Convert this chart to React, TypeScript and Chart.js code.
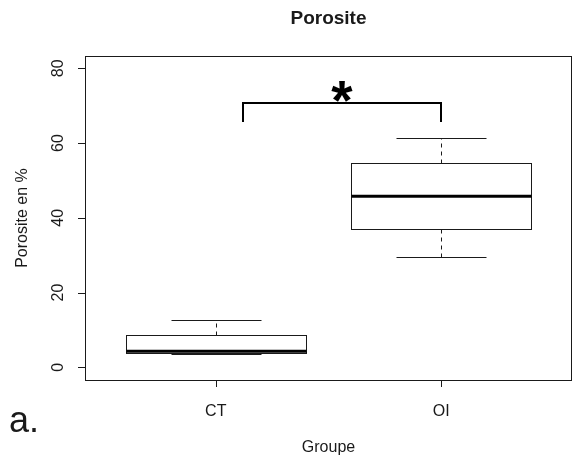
import React, { useEffect, useRef } from 'react';
import { Chart, registerables } from 'chart.js';

Chart.register(...registerables);

const categories = ['CT', 'OI'];
const positions = [1, 2];
const lowerWhisker = [3.5, 29.5];
const q1 = [3.9, 37.0];
const median = [4.3, 45.8];
const q3 = [8.6, 54.7];
const upperWhisker = [12.7, 61.3];
const yTicks = [0, 20, 40, 60, 80];
const bracketX = [1.12, 2.0];
const bracketY = [65.7, 70.6];
const sigLabel = '*';
const titleText = 'Porosite';
const yTitle = 'Porosite en %';
const xTitle = 'Groupe';
const panelLabel = 'a.';

const FONT = '"Liberation Sans", Arial, sans-serif';
const INK = '#1a1a1a';

const boxplotPlugin = {
  id: 'rBoxplot',
  beforeDraw(chart: any) {
    const ctx = chart.ctx;
    ctx.save();
    ctx.fillStyle = '#ffffff';
    ctx.fillRect(0, 0, chart.width, chart.height);
    ctx.restore();
  },
  afterDraw(chart: any) {
    const ctx = chart.ctx as CanvasRenderingContext2D;
    const xs = chart.scales.x;
    const ys = chart.scales.y;
    const a = chart.chartArea;
    ctx.save();

    // frame
    ctx.strokeStyle = INK;
    ctx.lineWidth = 1;
    ctx.strokeRect(Math.round(a.left) + 0.5, Math.round(a.top) + 0.5, Math.round(a.right - a.left) - 1, Math.round(a.bottom - a.top));

    // y ticks and labels
    ctx.fillStyle = INK;
    ctx.font = `16px ${FONT}`;
    yTicks.forEach((v) => {
      const py = Math.round(ys.getPixelForValue(v)) + 0.5;
      ctx.beginPath();
      ctx.moveTo(a.left - 7, py);
      ctx.lineTo(a.left, py);
      ctx.stroke();
      ctx.save();
      ctx.translate(63, ys.getPixelForValue(v));
      ctx.rotate(-Math.PI / 2);
      ctx.textAlign = 'center';
      ctx.textBaseline = 'alphabetic';
      ctx.fillText(String(v), 0, 0);
      ctx.restore();
    });

    // x ticks and labels
    positions.forEach((p, i) => {
      const px = Math.round(xs.getPixelForValue(p)) + 0.5;
      ctx.beginPath();
      ctx.moveTo(px, a.bottom);
      ctx.lineTo(px, a.bottom + 7);
      ctx.stroke();
      ctx.textAlign = 'center';
      ctx.textBaseline = 'alphabetic';
      ctx.fillText(categories[i], xs.getPixelForValue(p), 416);
    });

    // boxes
    positions.forEach((p, i) => {
      const xl = Math.round(xs.getPixelForValue(p - 0.4)) + 0.5;
      const xr = Math.round(xs.getPixelForValue(p + 0.4)) + 0.5;
      const cl = Math.round(xs.getPixelForValue(p - 0.2)) + 0.5;
      const cr = Math.round(xs.getPixelForValue(p + 0.2)) + 0.5;
      const xc = Math.round(xs.getPixelForValue(p)) + 0.5;
      const yLo = Math.round(ys.getPixelForValue(lowerWhisker[i])) + 0.5;
      const yQ1 = Math.round(ys.getPixelForValue(q1[i])) + 0.5;
      const yMed = ys.getPixelForValue(median[i]);
      const yQ3 = Math.round(ys.getPixelForValue(q3[i])) + 0.5;
      const yHi = Math.round(ys.getPixelForValue(upperWhisker[i])) + 0.5;

      ctx.strokeStyle = INK;
      ctx.lineWidth = 1;
      // whiskers dashed
      ctx.setLineDash([4, 4]);
      ctx.beginPath();
      ctx.moveTo(xc, yQ3);
      ctx.lineTo(xc, yHi);
      ctx.moveTo(xc, yQ1);
      ctx.lineTo(xc, yLo);
      ctx.stroke();
      ctx.setLineDash([]);
      // caps
      ctx.beginPath();
      ctx.moveTo(cl, yHi);
      ctx.lineTo(cr, yHi);
      ctx.moveTo(cl, yLo);
      ctx.lineTo(cr, yLo);
      ctx.stroke();
      // box
      ctx.strokeRect(xl, yQ3, xr - xl, yQ1 - yQ3);
      // median
      ctx.lineWidth = 3;
      ctx.strokeStyle = '#000';
      ctx.beginPath();
      ctx.moveTo(xl, yMed);
      ctx.lineTo(xr, yMed);
      ctx.stroke();
    });

    // significance bracket
    const bx0 = Math.round(xs.getPixelForValue(bracketX[0]));
    const bx1 = Math.round(xs.getPixelForValue(bracketX[1]));
    const byTop = Math.round(ys.getPixelForValue(bracketY[1]));
    const byBot = Math.round(ys.getPixelForValue(bracketY[0]));
    ctx.strokeStyle = '#000';
    ctx.lineWidth = 2;
    ctx.beginPath();
    ctx.moveTo(bx0, byBot);
    ctx.lineTo(bx0, byTop);
    ctx.lineTo(bx1, byTop);
    ctx.lineTo(bx1, byBot);
    ctx.stroke();

    // asterisk
    ctx.fillStyle = '#000';
    ctx.font = `bold 60px ${FONT}`;
    const m = ctx.measureText(sigLabel);
    const glyphH = m.actualBoundingBoxAscent + m.actualBoundingBoxDescent;
    const size = 60 * (21 / glyphH);
    ctx.font = `bold ${size}px ${FONT}`;
    const m2 = ctx.measureText(sigLabel);
    const midX = xs.getPixelForValue((bracketX[0] + bracketX[1]) / 2);
    ctx.textAlign = 'center';
    ctx.textBaseline = 'alphabetic';
    ctx.fillText(sigLabel, midX, byTop - 1 - m2.actualBoundingBoxDescent);

    // titles
    ctx.fillStyle = INK;
    ctx.font = `bold 19px ${FONT}`;
    ctx.textAlign = 'center';
    ctx.fillText(titleText, (a.left + a.right) / 2, 24);

    ctx.font = `16px ${FONT}`;
    ctx.fillText(xTitle, (a.left + a.right) / 2, 452);

    ctx.save();
    ctx.translate(27, (a.top + a.bottom) / 2);
    ctx.rotate(-Math.PI / 2);
    ctx.textAlign = 'center';
    ctx.fillText(yTitle, 0, 0);
    ctx.restore();

    ctx.font = `36px ${FONT}`;
    ctx.textAlign = 'left';
    ctx.fillText(panelLabel, 9, 432);

    ctx.restore();
  },
};

export default function App() {
  const ref = useRef<HTMLCanvasElement | null>(null);
  useEffect(() => {
    document.body.style.margin = '0';
    const canvas = ref.current;
    if (!canvas) return;
    const chart = new Chart(canvas, {
      type: 'scatter',
      data: {
        datasets: [
          {
            label: 'median',
            data: positions.map((p, i) => ({ x: p, y: median[i] })),
            pointRadius: 0,
            showLine: false,
          },
        ],
      },
      options: {
        responsive: false,
        animation: false,
        events: [],
        layout: { padding: { left: 85, right: 1, top: 56, bottom: 79 } },
        plugins: { legend: { display: false }, tooltip: { enabled: false }, title: { display: false } },
        scales: {
          x: { type: 'linear', min: 0.42, max: 2.58, display: false },
          y: { type: 'linear', min: -3.4, max: 83.3, display: false },
        },
      },
      plugins: [boxplotPlugin],
    });
    return () => chart.destroy();
  }, []);
  return <canvas ref={ref} width={573} height={459} style={{ display: 'block' }} />;
}
